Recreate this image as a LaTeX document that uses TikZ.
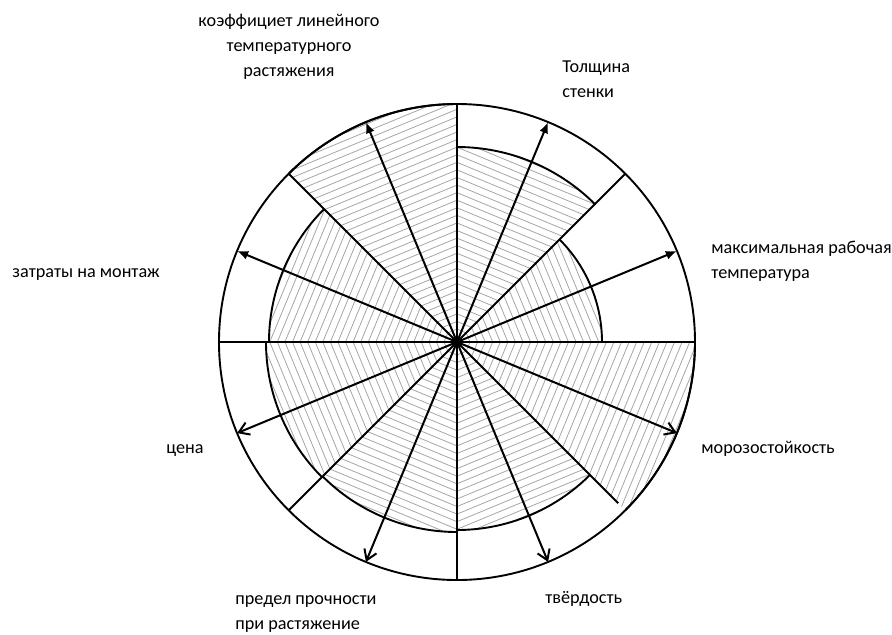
\documentclass[tikz,border=0pt]{standalone}
\usepackage{fontspec}
\setmainfont{Carlito}
\usetikzlibrary{arrows.meta}

\begin{document}
\begin{tikzpicture}[x=0.5pt, y=0.5pt,
    hatch/.style={gray!70, line width=0.4pt},
    edge/.style={black, line width=0.95pt},
    arrup/.style={line width=1pt, -{Latex[length=5.5pt, width=4.5pt]}},
    arrdown/.style={line width=1pt, -{Straight Barb[length=5pt, width=6.5pt]}},
    lbl/.style={font=\fontsize{9.1}{12.5}\selectfont, inner sep=0pt}]
    \useasboundingbox (-457,-292) rectangle (435,342);
    \coordinate (O) at (0,0);
    % hatched sectors (start angle / value radius)
    \foreach \a/\r in {0/145, 45/195, 90/238, 135/188, 180/191, 225/190, 270/188, 315/238} {
        \begin{scope}[rotate=\a+22.5]
            \clip (0,0) -- (-22.5:\r) arc[start angle=-22.5, end angle=22.5, radius=\r] -- cycle;
            \foreach \d in {5,12,...,245}
                \draw[hatch] (\d,-250) -- (\d,250);
        \end{scope}
        \draw[edge] (\a:\r) arc[start angle=\a, end angle=\a+45, radius=\r];
    }
    % outer circle and dividing lines
    \draw[edge] (O) circle[radius=238];
    \foreach \a in {0,45,...,270}
        \draw[edge] (O) -- (\a:238);
    \draw[edge] (O) -- (315:228);
    % axes of the criteria
    \foreach \a in {22.5, 67.5, 112.5, 157.5}
        \draw[arrup] (O) -- (\a:238);
    \foreach \a in {202.5, 247.5, 292.5, 337.5}
        \draw[arrdown] (O) -- (\a:238);
    % labels
    \node[lbl, align=center] (coef) at (-168,295) {коэффициет линейного\\температурного\\растяжения};
    \node[lbl, align=left, anchor=west] (wall) at (105,263) {Толщина\\стенки};
    \node[lbl, align=left, anchor=west] (tmax) at (254,81) {максимальная рабочая\\температура};
    \node[lbl, anchor=west] (mount) at (-445,67) {затраты на монтаж};
    \node[lbl, anchor=west] (frost) at (244,-107) {морозостойкость};
    \node[lbl, anchor=west] (price) at (-291,-109) {цена};
    \node[lbl, align=left, anchor=west] (limit) at (-222,-272) {предел прочности\\при растяжение};
    \node[lbl, anchor=west] (hard) at (88,-257) {твёрдость};
\end{tikzpicture}
\end{document}
